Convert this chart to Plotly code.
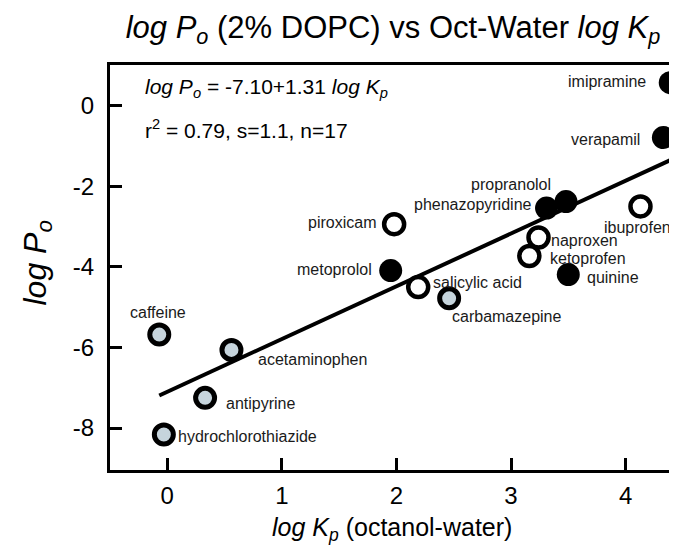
import plotly.graph_objects as go

# ---- data ----
drugs = ["imipramine", "verapamil", "propranolol", "phenazopyridine", "metoprolol", "quinine",
         "ibuprofen", "naproxen", "ketoprofen", "piroxicam", "salicylic acid",
         "carbamazepine", "caffeine", "acetaminophen", "antipyrine", "hydrochlorothiazide"]
log_kp = [4.39, 4.33, 3.48, 3.31, 1.95, 3.50,
          4.13, 3.24, 3.16, 1.98, 2.19,
          2.46, -0.07, 0.56, 0.33, -0.03]
log_po = [0.57, -0.79, -2.38, -2.54, -4.09, -4.19,
          -2.50, -3.27, -3.73, -2.94, -4.50,
          -4.78, -5.68, -6.06, -7.25, -8.16]
group = ["base", "base", "base", "base", "base", "base",
         "acid", "acid", "acid", "acid", "acid",
         "neutral", "neutral", "neutral", "neutral", "neutral"]

fit_x = [-0.07, 4.40]
fit_y = [-7.19, -1.34]

x_ticks = [0, 1, 2, 3, 4]
x_ticktext = ["0", "1", "2", "3", "4"]
y_ticks = [0, -2, -4, -6, -8]
y_ticktext = ["0", "-2", "-4", "-6", "-8"]

# label placement (pixel offsets relative to each marker)
label_style = {
    "imipramine": ("right", -22, 1),
    "verapamil": ("right", -21, -2),
    "propranolol": ("right", -13, 17),
    "phenazopyridine": ("right", -13, 4),
    "metoprolol": ("right", -17, 1),
    "quinine": ("left", 17, -3),
    "ibuprofen": ("center", -3, -21),
    "naproxen": ("left", 10, -3),
    "ketoprofen": ("left", 19, -2),
    "piroxicam": ("right", -16, 2),
    "salicylic acid": ("left", 13, 5),
    "carbamazepine": ("left", 1, -18),
    "caffeine": ("center", -1, 22),
    "acetaminophen": ("left", 25, -10),
    "antipyrine": ("left", 19, -6),
    "hydrochlorothiazide": ("left", 12, -2),
}

FONT = "Arial, Liberation Sans, Helvetica, sans-serif"

fig = go.Figure()

fig.add_trace(go.Scatter(x=fit_x, y=fit_y, mode="lines",
                         line=dict(color="black", width=4), showlegend=False,
                         hoverinfo="skip"))

styles = {
    "base": dict(color="black", size=23, line=dict(color="black", width=0)),
    "acid": dict(color="white", size=20, line=dict(color="black", width=4.5)),
    "neutral": dict(color="#c6d4dc", size=19, line=dict(color="black", width=5)),
}
for g in ["neutral", "acid", "base"]:
    xs = [x for x, gg in zip(log_kp, group) if gg == g]
    ys = [y for y, gg in zip(log_po, group) if gg == g]
    names = [d for d, gg in zip(drugs, group) if gg == g]
    fig.add_trace(go.Scatter(x=xs, y=ys, mode="markers", text=names,
                             marker=dict(symbol="circle", **styles[g]),
                             cliponaxis=False, showlegend=False))

annotations = []
for d, x, y in zip(drugs, log_kp, log_po):
    anchor, dx, dy = label_style[d]
    annotations.append(dict(x=x, y=y, xref="x", yref="y", text=d, showarrow=False,
                            xanchor=anchor, yanchor="middle", xshift=dx, yshift=dy,
                            font=dict(family=FONT, size=16, color="#1a1a1a")))

annotations.append(dict(x=0.058, y=0.942, xref="paper", yref="paper",
                        text="<i>log P</i><sub><i>o</i></sub> = -7.10+1.31 <i>log K</i><sub><i>p</i></sub>",
                        showarrow=False, xanchor="left", yanchor="middle",
                        font=dict(family=FONT, size=21, color="black")))
annotations.append(dict(x=0.058, y=0.842, xref="paper", yref="paper",
                        text="r<sup>2</sup> = 0.79, s=1.1, n=17",
                        showarrow=False, xanchor="left", yanchor="middle",
                        font=dict(family=FONT, size=21, color="black")))
# axis titles
annotations.append(dict(x=0.495, y=-0.19, xref="paper", yref="paper",
                        text="<i>log K</i><sub><i>p</i></sub> (octanol-water)",
                        showarrow=False, xanchor="center", yanchor="bottom",
                        font=dict(family=FONT, size=25, color="black")))
annotations.append(dict(x=-0.128, y=0.51, xref="paper", yref="paper",
                        text="<i>log P</i><sub><i>o</i></sub>", textangle=-90,
                        showarrow=False, xanchor="center", yanchor="middle",
                        font=dict(family=FONT, size=32, color="black")))

axis_common = dict(showline=True, linecolor="black", linewidth=3, mirror=True,
                   ticks="inside", ticklen=12, tickwidth=3, tickcolor="black",
                   showgrid=False, zeroline=False,
                   tickfont=dict(family=FONT, size=24, color="black"))

fig.update_layout(
    width=677, height=547,
    margin=dict(l=102, r=2, t=57, b=85),
    paper_bgcolor="white", plot_bgcolor="white",
    title=dict(text="<i>log P</i><sub><i>o</i></sub> (2% DOPC) vs Oct-Water <i>log K</i><sub><i>p</i></sub>",
               x=385 / 677, xanchor="center", y=1 - 19 / 547, yanchor="middle",
               font=dict(family=FONT, size=31, color="black")),
    xaxis=dict(range=[-0.5, 4.475], tickvals=x_ticks, ticktext=x_ticktext,
               ticklabelstandoff=2, **axis_common),
    yaxis=dict(range=[-9.04, 1.01], tickvals=y_ticks, ticktext=y_ticktext,
               ticklabelstandoff=8, **axis_common),
    annotations=annotations,
)

fig.write_html("out.html")
